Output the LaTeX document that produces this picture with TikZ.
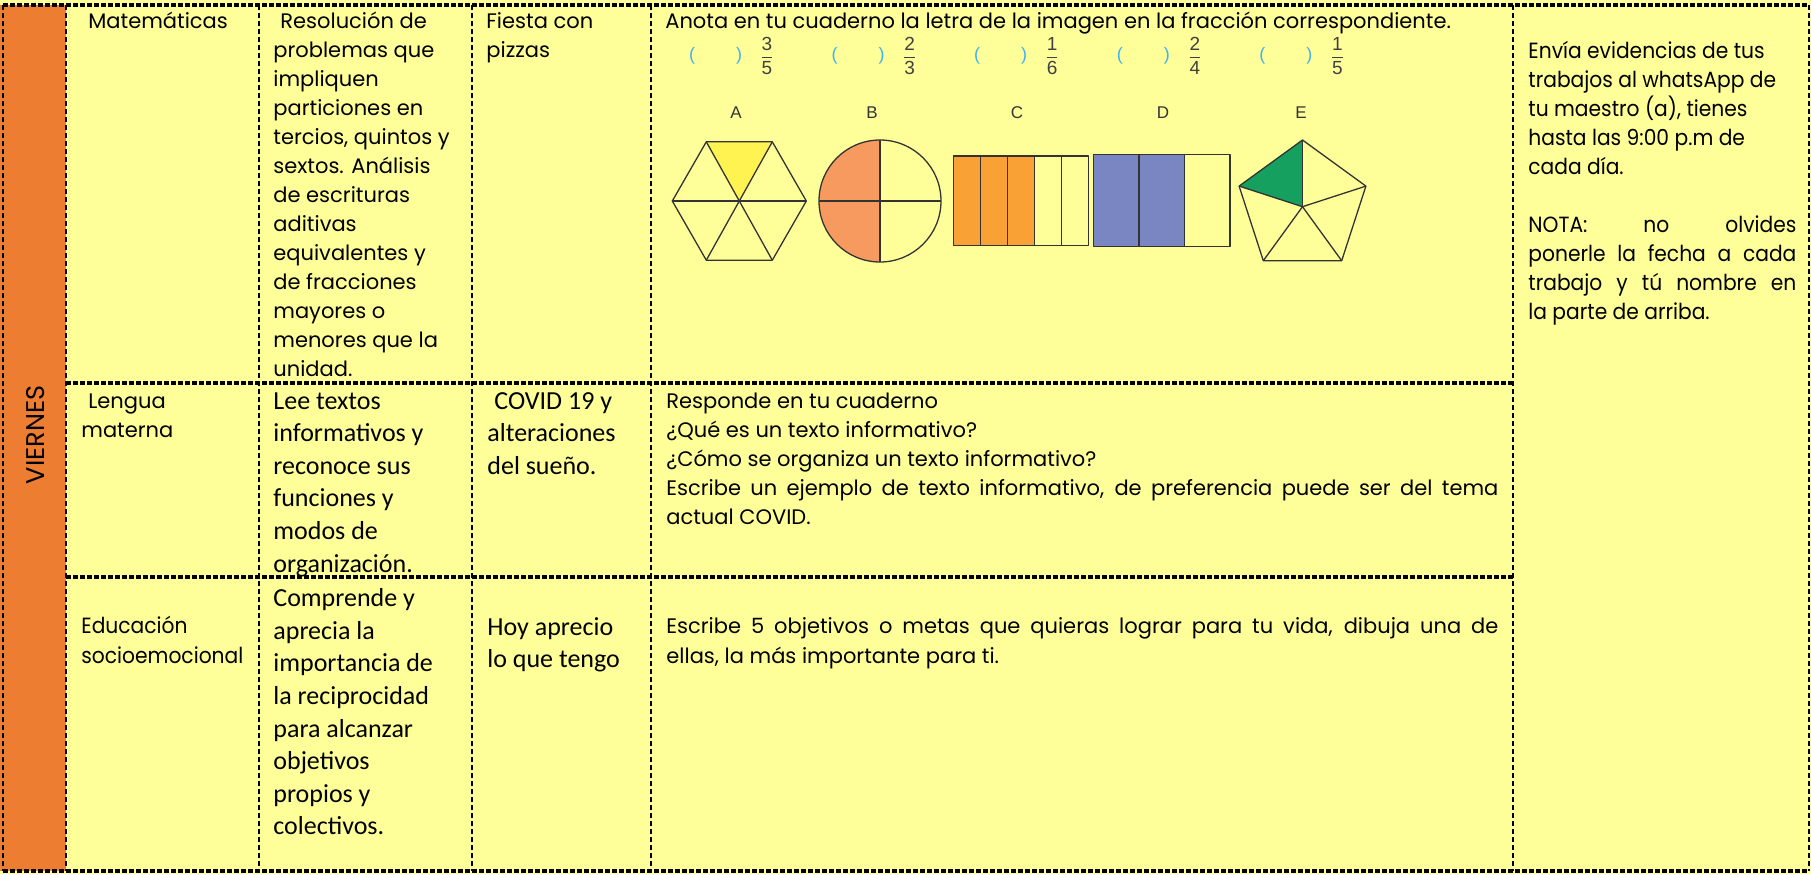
\documentclass[tikz,border=0pt]{standalone}
\usepackage{fontspec}
\setmainfont{Poppins}
\newfontfamily\narrowgothic{Poppins}[FakeStretch=0.92]
\newfontfamily\calfont{Carlito}
\newfontfamily\arialfont{Liberation Sans}

\newlength{\du}
\setlength{\du}{0.5pt}

\definecolor{cellyellow}{RGB}{255,255,153}
\definecolor{dayorange}{RGB}{237,125,49}
\definecolor{hexyellow}{RGB}{255,243,82}
\definecolor{circleorange}{RGB}{247,154,95}
\definecolor{barorange}{RGB}{249,161,52}
\definecolor{barblue}{RGB}{122,134,194}
\definecolor{pentgreen}{RGB}{22,160,95}
\definecolor{parenblue}{RGB}{61,178,240}
\definecolor{digitgray}{RGB}{64,64,64}
\definecolor{shapegray}{RGB}{51,51,51}

\tikzset{
  gothic/.style={anchor=base west, inner sep=0pt, font=\fontsize{10.5}{14}\selectfont},
  gothicbig/.style={anchor=base west, inner sep=0pt, font=\narrowgothic\fontsize{11}{14}\selectfont},
  calib/.style={anchor=base west, inner sep=0pt, font=\calfont\fontsize{13}{16}\selectfont},
  hrule/.style={line width=3.2\du, dash pattern=on 5\du off 2\du},
  vrule/.style={line width=2.4\du, dash pattern=on 5\du off 3\du},
  piece/.style={draw=shapegray, line width=1.3\du, line join=round},
  letter/.style={inner sep=0pt, text=shapegray, font=\arialfont\fontsize{8.5}{10}\selectfont},
  paren/.style={inner sep=0pt, text=parenblue, font=\arialfont\fontsize{9}{10}\selectfont},
  frac/.style={inner sep=0pt, text=digitgray, font=\arialfont\fontsize{9.5}{11}\selectfont},
}

\begin{document}
\begin{tikzpicture}
\pgftransformxscale{1.000000}
\pgftransformyscale{-1.000000}
\useasboundingbox (0\du,0\du) rectangle (1811\du,874\du);
% background of the cells
\fill[cellyellow] (0\du,0\du) rectangle (1811\du,874\du);
\fill[dayorange] (0\du,5\du) rectangle (66\du,871\du);
\node[rotate=90, inner sep=0pt, font=\fontsize{12.8}{14}\selectfont] (dia) at (36\du,435\du) {VIERNES};

% grid
\draw[hrule] (3\du,5\du)--(1809\du,5\du);
\draw[hrule] (66\du,383\du)--(1513\du,383\du);
\draw[hrule] (66\du,577\du)--(1513\du,577\du);
\draw[hrule] (3\du,871\du)--(1809\du,871\du);
\draw[vrule] (3\du,5\du)--(3\du,871\du);
\draw[vrule] (66\du,5\du)--(66\du,871\du);
\draw[vrule] (259\du,5\du)--(259\du,871\du);
\draw[vrule] (472\du,5\du)--(472\du,871\du);
\draw[vrule] (651\du,5\du)--(651\du,871\du);
\draw[vrule] (1513\du,5\du)--(1513\du,871\du);
\draw[vrule] (1809\du,5\du)--(1809\du,871\du);

% row 1: matematicas
\node[gothic] (mat) at (88\du,28\du){Matemáticas};
\node[gothic] (res1) at (280\du,28\du){Resolución de};
\node[gothic] (res2) at (273\du,57\du){problemas que};
\node[gothic] (res3) at (273\du,86\du){impliquen};
\node[gothic] (res4) at (273\du,115\du){particiones en};
\node[gothic] (res5) at (273\du,144\du){tercios, quintos y};
\node[gothic] (res6) at (273\du,173\du){sextos. Análisis};
\node[gothic] (res7) at (273\du,202\du){de escrituras};
\node[gothic] (res8) at (273\du,231\du){aditivas};
\node[gothic] (res9) at (273\du,260\du){equivalentes y};
\node[gothic] (res10) at (273\du,289\du){de fracciones};
\node[gothic] (res11) at (273\du,318\du){mayores o};
\node[gothic] (res12) at (273\du,347\du){menores que la};
\node[gothic] (res13) at (273\du,376\du){unidad.};
\node[gothic] (fie1) at (486\du,28\du){Fiesta con};
\node[gothic] (fie2) at (486\du,57\du){pizzas};
\node[gothic] (anota) at (665\du,28\du){Anota en tu cuaderno la letra de la imagen en la fracción correspondiente.};

% fractions
\node[paren] (pl1) at (692\du,56\du){(};
\node[paren] (pr1) at (739\du,56\du){)};
\node[frac] (fr1) at (767\du,56\du){$\displaystyle{\hbox{3}\over\hbox{5}}$};
\node[paren] (pl2) at (834.6\du,56\du){(};
\node[paren] (pr2) at (881.6\du,56\du){)};
\node[frac] (fr2) at (909.6\du,56\du){$\displaystyle{\hbox{2}\over\hbox{3}}$};
\node[paren] (pl3) at (977.2\du,56\du){(};
\node[paren] (pr3) at (1024.2\du,56\du){)};
\node[frac] (fr3) at (1052.2\du,56\du){$\displaystyle{\hbox{1}\over\hbox{6}}$};
\node[paren] (pl4) at (1119.8\du,56\du){(};
\node[paren] (pr4) at (1166.8\du,56\du){)};
\node[frac] (fr4) at (1194.8\du,56\du){$\displaystyle{\hbox{2}\over\hbox{4}}$};
\node[paren] (pl5) at (1262.4\du,56\du){(};
\node[paren] (pr5) at (1309.4\du,56\du){)};
\node[frac] (fr5) at (1337.4\du,56\du){$\displaystyle{\hbox{1}\over\hbox{5}}$};

% letters
\node[letter] (la) at (736\du,113\du){A};
\node[letter] (lb) at (872\du,113\du){B};
\node[letter] (lc) at (1017\du,113\du){C};
\node[letter] (ld) at (1163\du,113\du){D};
\node[letter] (le) at (1301\du,113\du){E};

% A: hexagon
\fill[hexyellow] (706.3\du,141.8\du)--(772.3\du,141.8\du)--(739.3\du,201\du)--cycle;
\draw[piece] (706.3\du,141.8\du)--(772.3\du,141.8\du)--(806.3\du,201\du)--(772.3\du,260.2\du)--(706.3\du,260.2\du)--(672.3\du,201\du)--cycle;
\draw[piece] (706.3\du,141.8\du)--(772.3\du,260.2\du);
\draw[piece] (772.3\du,141.8\du)--(706.3\du,260.2\du);
\draw[piece] (672.3\du,201\du)--(806.3\du,201\du);

% B: circle
\fill[circleorange] (880\du,140\du) arc[start angle=270, end angle=90, radius=61\du]--cycle;
\draw[piece] (880\du,201\du) circle[radius=61\du];
\draw[piece] (880\du,140\du)--(880\du,262\du);
\draw[piece] (819\du,201\du)--(941\du,201\du);

% C: fifths
\fill[barorange] (953.6\du,156\du) rectangle (1034.6\du,245.7\du);
\draw[piece] (953.6\du,156\du) rectangle (1088.6\du,245.7\du);
\draw[piece] (980.6\du,156\du)--(980.6\du,245.7\du);
\draw[piece] (1007.6\du,156\du)--(1007.6\du,245.7\du);
\draw[piece] (1034.6\du,156\du)--(1034.6\du,245.7\du);
\draw[piece] (1061.6\du,156\du)--(1061.6\du,245.7\du);

% D: thirds
\fill[barblue] (1093.6\du,154.7\du) rectangle (1184.5\du,246.7\du);
\draw[piece] (1093.6\du,154.7\du) rectangle (1230\du,246.7\du);
\draw[piece] (1139.1\du,154.7\du)--(1139.1\du,246.7\du);
\draw[piece] (1184.5\du,154.7\du)--(1184.5\du,246.7\du);

% E: pentagon
\fill[pentgreen] (1302.5\du,140\du)--(1239.1\du,186.1\du)--(1302.5\du,206.7\du)--cycle;
\draw[piece] (1302.5\du,140\du)--(1365.9\du,186.1\du)--(1341.7\du,260.7\du)--(1263.3\du,260.7\du)--(1239.1\du,186.1\du)--cycle;
\draw[piece] (1302.5\du,206.7\du)--(1302.5\du,140\du);
\draw[piece] (1302.5\du,206.7\du)--(1365.9\du,186.1\du);
\draw[piece] (1302.5\du,206.7\du)--(1341.7\du,260.7\du);
\draw[piece] (1302.5\du,206.7\du)--(1263.3\du,260.7\du);
\draw[piece] (1302.5\du,206.7\du)--(1239.1\du,186.1\du);

% right column
\node[gothicbig] (env1) at (1528\du,58\du){Envía evidencias de tus};
\node[gothicbig] (env2) at (1528\du,87\du){trabajos al whatsApp de};
\node[gothicbig] (env3) at (1528\du,116\du){tu maestro (a), tienes};
\node[gothicbig] (env4) at (1528\du,145\du){hasta las 9:00 p.m de};
\node[gothicbig] (env5) at (1528\du,174\du){cada día.};
\node[gothicbig] (nota1) at (1528\du,232\du){\makebox[268\du][s]{NOTA: no olvides}};
\node[gothicbig] (nota2) at (1528\du,261\du){\makebox[268\du][s]{ponerle la fecha a cada}};
\node[gothicbig] (nota3) at (1528\du,290\du){\makebox[268\du][s]{trabajo y tú nombre en}};
\node[gothicbig] (nota4) at (1528\du,319\du){la parte de arriba.};

% row 2: lengua materna
\node[gothic] (len1) at (88\du,408\du){Lengua};
\node[gothic] (len2) at (81\du,437\du){materna};
\node[calib] (lee1) at (273\du,409\du){Lee textos};
\node[calib] (lee2) at (273\du,441.6\du){informativos y};
\node[calib] (lee3) at (273\du,474.2\du){reconoce sus};
\node[calib] (lee4) at (273\du,506.8\du){funciones y};
\node[calib] (lee5) at (273\du,539.4\du){modos de};
\node[calib] (lee6) at (273\du,572\du){organización.};
\node[calib] (cov1) at (494\du,409\du){COVID 19 y};
\node[calib] (cov2) at (487\du,441.6\du){alteraciones};
\node[calib] (cov3) at (487\du,474.2\du){del sueño.};
\node[gothic] (resp1) at (666\du,408\du){Responde en tu cuaderno};
\node[gothic] (resp2) at (666\du,437\du){¿Qué es un texto informativo?};
\node[gothic] (resp3) at (666\du,466\du){¿Cómo se organiza un texto informativo?};
\node[gothic] (resp4) at (666\du,495\du){\makebox[832\du][s]{Escribe un ejemplo de texto informativo, de preferencia puede ser del tema}};
\node[gothic] (resp5) at (666\du,524\du){actual COVID.};

% row 3: educacion socioemocional
\node[gothicbig] (edu1) at (81\du,633\du){Educación};
\node[gothicbig] (edu2) at (81\du,663\du){socioemocional};
\node[calib] (com1) at (273\du,606.7\du){Comprende y};
\node[calib] (com2) at (273\du,639.3\du){aprecia la};
\node[calib] (com3) at (273\du,671.9\du){importancia de};
\node[calib] (com4) at (273\du,704.5\du){la reciprocidad};
\node[calib] (com5) at (273\du,737.1\du){para alcanzar};
\node[calib] (com6) at (273\du,769.7\du){objetivos};
\node[calib] (com7) at (273\du,802.3\du){propios y};
\node[calib] (com8) at (273\du,834.9\du){colectivos.};
\node[calib] (hoy1) at (487\du,635\du){Hoy aprecio};
\node[calib] (hoy2) at (487\du,667\du){lo que tengo};
\node[gothic] (esc1) at (666\du,633\du){\makebox[832\du][s]{Escribe 5 objetivos o metas que quieras lograr para tu vida, dibuja una de}};
\node[gothic] (esc2) at (666\du,663\du){ellas, la más importante para ti.};
\end{tikzpicture}
\end{document}
